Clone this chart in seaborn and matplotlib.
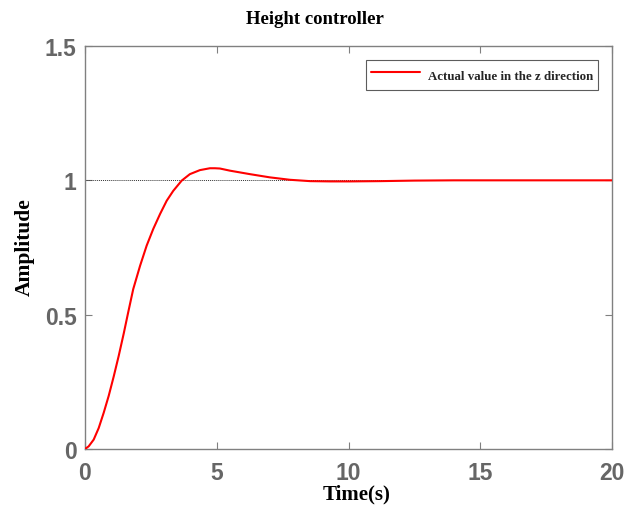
import matplotlib
matplotlib.use("Agg")
import matplotlib.pyplot as plt
import seaborn as sns
import pandas as pd

time_s = [0.0, 0.14, 0.33, 0.52, 0.71, 0.90, 1.09, 1.28, 1.47, 1.64, 1.83, 2.09,
          2.34, 2.59, 2.85, 3.10, 3.35, 3.67, 3.98, 4.36, 4.74, 4.93, 5.12, 5.50,
          6.26, 7.02, 7.78, 8.54, 9.30, 10.06, 11.2, 12.5, 14.0, 16.0, 18.0, 20.0]
amplitude = [0.0, 0.010, 0.035, 0.078, 0.135, 0.198, 0.270, 0.347, 0.430, 0.509, 0.595, 0.682,
             0.757, 0.819, 0.875, 0.924, 0.961, 0.999, 1.023, 1.038, 1.045, 1.045, 1.044, 1.036,
             1.023, 1.011, 1.002, 0.997, 0.996, 0.996, 0.997, 0.999, 1.0, 1.0, 1.0, 1.0]
ref_level = 1.0
xticks = [0, 5, 10, 15, 20]
yticks = [0, 0.5, 1, 1.5]
ytick_labels = ["0", "0.5", "1", "1.5"]
title = "Height controller"
xlabel = "Time(s)"
ylabel = "Amplitude"
legend_label = "Actual value in the z direction"

sns.set_theme(style="white")
plt.rcParams['font.family'] = ['Liberation Serif', 'DejaVu Serif']

df = pd.DataFrame({"t": time_s, "y": amplitude})

W, H = 624, 506
L, R, T, B = 85, 612, 47, 450
fig = plt.figure(figsize=(W/100, H/100), dpi=100)
ax = fig.add_axes([L/W, 1-B/H, (R-L)/W, (B-T)/H])

ax.axhline(ref_level, color="#333333", linestyle=(0, (1, 1)), linewidth=0.7, zorder=1)
sns.lineplot(data=df, x="t", y="y", ax=ax, color="#ff0000", linewidth=1.5,
             label=legend_label, zorder=3)

ax.set_xlim(0, 20)
ax.set_ylim(0, 1.5)
ax.set_xticks(xticks)
ax.set_yticks(yticks)
ax.set_yticklabels(ytick_labels)
tick_color = "#666666"
for lab in ax.get_xticklabels() + ax.get_yticklabels():
    lab.set_fontfamily("Liberation Sans")
    lab.set_fontweight("bold")
    lab.set_fontsize(16.5)
    lab.set_color(tick_color)
ax.tick_params(direction="in", length=5, width=0.8, color="#808080",
               top=True, right=True, bottom=True, left=True)
ax.tick_params(axis="x", pad=9)
ax.tick_params(axis="y", pad=6)
for sp in ax.spines.values():
    sp.set_color("#808080")
    sp.set_linewidth(1.0)

fig.text(315/W, 1-19/H, title, fontsize=13.5, fontweight="bold", color="black",
         ha="center", va="center")
ax.set_xlabel(xlabel, fontsize=15, fontweight="bold", color="black", va="center")
ax.xaxis.set_label_coords((357-L)/(R-L), -(494-B)/(B-T))
ax.set_ylabel(ylabel, fontsize=15.5, fontweight="bold", color="black", va="center")
ax.yaxis.set_label_coords(-(L-25)/(R-L), (B-247)/(B-T))

leg = ax.legend(loc="upper right", bbox_to_anchor=((598-L)/(R-L), 1-(61-T)/(B-T)),
                frameon=True, fancybox=False, borderaxespad=0, borderpad=0.4,
                handlelength=3.8, handleheight=2.0, handletextpad=0.6,
                prop={"family": "Liberation Serif", "weight": "bold", "size": 9.3})
leg.get_frame().set_edgecolor("#333333")
leg.get_frame().set_linewidth(0.8)

fig.savefig("out.png", dpi=100, facecolor="white")
